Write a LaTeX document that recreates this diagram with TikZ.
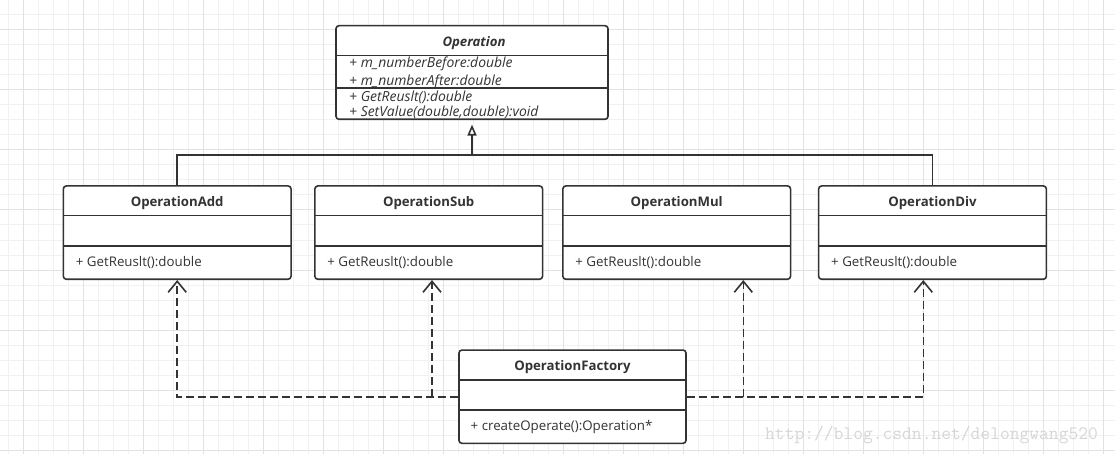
\documentclass[tikz,border=0pt]{standalone}
\usepackage{fontspec}
\setmainfont{Open Sans}
\usetikzlibrary{arrows.meta}
\definecolor{ink}{HTML}{333333}
\definecolor{gminor}{HTML}{F1F1F1}
\definecolor{gmajor}{HTML}{E2E2E2}
\definecolor{wmark}{HTML}{D6D6D6}
\tikzset{
  cls/.style={rectangle, draw=ink, line width=1.6pt, fill=white, rounded corners=3pt, inner sep=0pt},
  sep/.style={draw=ink, line width=1.6pt},
  ttl/.style={font=\fontsize{13.2}{15}\selectfont\bfseries, text=ink, anchor=base, inner sep=0pt},
  mem/.style={font=\fontsize{13.3}{15}\selectfont, text=ink, anchor=base west, inner sep=0pt},
  imem/.style={font=\fontsize{13.9}{15}\selectfont\itshape, text=ink, anchor=base west, inner sep=0pt},
  dep/.style={draw=ink, line width=1.6pt, dash pattern=on 8pt off 4pt, -{Straight Barb[length=11pt,width=18pt]}},
  inh/.style={draw=ink, line width=1.6pt},
  inharrow/.style={draw=ink, line width=1.6pt, shorten >=4.5pt, -{Triangle[open, fill=white, length=11pt, width=9pt]}},
  wm/.style={font=\fontsize{19}{19}\selectfont\ttfamily, text=wmark, anchor=base west, inner sep=0pt}
}
\begin{document}
\begin{tikzpicture}[x=1pt,y=-1pt]
\useasboundingbox (0,0) rectangle (1115,454);
\fill[white] (0,0) rectangle (1115,454);
% grid
\foreach \i in {0,...,74} \draw[gminor, line width=1pt] ({8.333+15*\i},0) -- ({8.333+15*\i},454);
\foreach \i in {1,...,30} \draw[gminor, line width=1pt] (0,{15*\i}) -- (1115,{15*\i});
\foreach \i in {0,...,18} \draw[gmajor, line width=1pt] ({23.333+60*\i},0) -- ({23.333+60*\i},454);
\foreach \i in {0,...,7} \draw[gmajor, line width=1pt] (0,{30+60*\i}) -- (1115,{30+60*\i});

% Operation
\node[cls, minimum width=272pt, minimum height=93.6pt] (op) at (472,72.5) {};
\draw[sep] (op.west |- 0,55.7) -- (op.east |- 0,55.7);
\draw[sep] (op.west |- 0,88.3) -- (op.east |- 0,88.3);
\node[ttl, font=\fontsize{13.2}{15}\selectfont\bfseries\itshape] (opt) at (474,46.4) {Operation};
\node[imem] (op1) at (349,67.8) {+ m\_numberBefore:double};
\node[imem] (op2) at (349,85.5) {+ m\_numberAfter:double};
\node[imem] (op3) at (349,101.2) {+ GetReuslt():double};
\node[imem] (op4) at (349,116.2) {+ SetValue(double,double):void};

% subclasses
\foreach \n/\cx/\t in {add/177.2/OperationAdd, sub/428.7/OperationSub, mul/676.7/OperationMul, div/932.5/OperationDiv}{
  \node[cls, minimum width=227.7pt, minimum height=93.3pt] (\n) at (\cx,232.6) {};
  \draw[sep] (\n.west |- 0,215.7) -- (\n.east |- 0,215.7);
  \draw[sep] (\n.west |- 0,246) -- (\n.east |- 0,246);
  \node[ttl] (\n t) at (\cx,206.4) {\t};
  \node[mem] (\n m) at ({\cx-101.5},266.4) {+ GetReuslt():double};
}

% Factory
\node[cls, minimum width=227pt, minimum height=93.3pt] (fac) at (572.5,396.7) {};
\draw[sep] (fac.west |- 0,380) -- (fac.east |- 0,380);
\draw[sep] (fac.west |- 0,410) -- (fac.east |- 0,410);
\node[ttl] (fact) at (572.5,370.4) {OperationFactory};
\node[mem] (facm) at (470.5,430.7) {+ createOperate():Operation*};

% inheritance
\draw[inh] (add.north) -- ++(0,-30) -| (div.north);
\coordinate (g) at (op.south |- 0,156);
\draw[inharrow] (g) -- (op.south);

% dependencies
\coordinate (sa) at ([xshift=3.3pt]sub.south);
\coordinate (ma) at ([xshift=66.6pt]mul.south);
\coordinate (da) at ([xshift=-9.2pt]div.south);
\draw[dep] (fac.west) -| (add.south);
\draw[dep] (sa |- fac.west) -- (sa);
\draw[dep] (fac.east) -| (da);
\draw[dep] (ma |- fac.east) -- (ma);

% watermark
\node[wm] (wm) at (765,439) {http://blog.csdn.net/delongwang520};
\end{tikzpicture}
\end{document}
